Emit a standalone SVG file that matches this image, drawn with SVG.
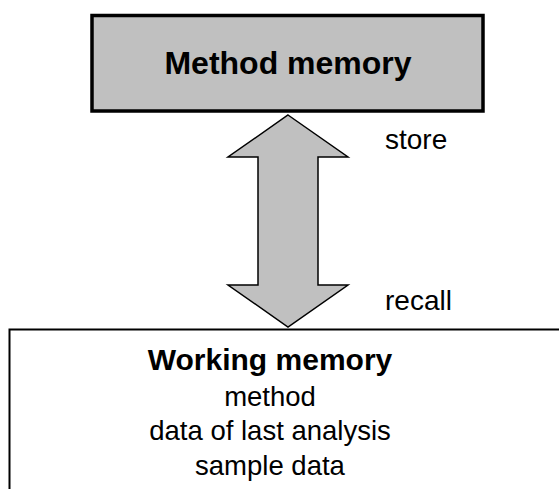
<svg xmlns="http://www.w3.org/2000/svg" width="559" height="489" viewBox="0 0 559 489">
<style>
text{font-family:"Liberation Sans",Arial,sans-serif;fill:#000}
.b{font-weight:bold}
.c{text-anchor:middle}
</style>
<rect width="559" height="489" fill="#fff"/>
<g id="method-memory">
<rect x="92" y="15.5" width="391" height="95.5" fill="#c0c0c0" stroke="#000" stroke-width="3.5"/>
<text class="b c" x="288" y="74" font-size="32">Method memory</text>
</g>
<g id="working-memory">
<path d="M9.5 489 V329.5 H560" fill="#fff" stroke="#000" stroke-width="2"/>
<text class="b c" x="270" y="370" font-size="30">Working memory</text>
<text class="c" x="270" y="406" font-size="27.5">method</text>
<text class="c" x="270" y="440" font-size="27.5">data of last analysis</text>
<text class="c" x="270" y="475" font-size="27.5">sample data</text>
</g>
<g id="connectors">
<path d="M288 115 L348 157 H318 V285 H348 L288 327 L228 285 H258 V157 H228 Z" fill="#c0c0c0" stroke="#000" stroke-width="1.5" stroke-linejoin="miter"/>
<text x="385" y="149" font-size="28">store</text>
<text x="385" y="310" font-size="28">recall</text>
</g>
</svg>
